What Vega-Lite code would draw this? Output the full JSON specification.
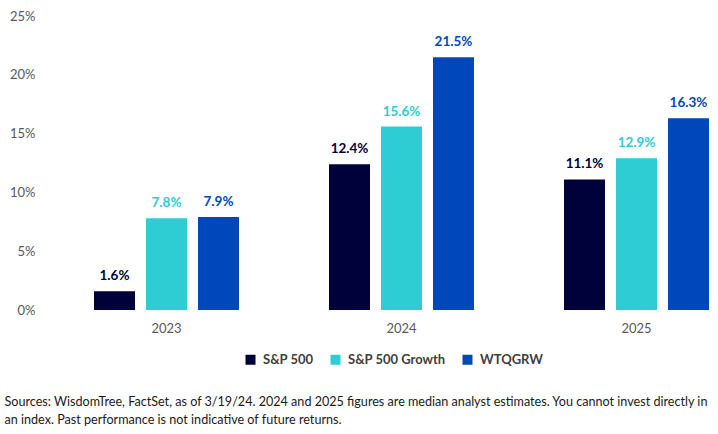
{
  "$schema": "https://vega.github.io/schema/vega-lite/v6.json",
  "autosize": "none",
  "width": 615,
  "height": 294,
  "padding": {"left": 94, "top": 16, "right": 9, "bottom": 124},
  "background": "white",
  "config": {"view": {"stroke": null}, "font": "Lato"},
  "data": {"values": [
    {"year": "2023", "series": "S&P 500", "value": 1.6},
    {"year": "2023", "series": "S&P 500 Growth", "value": 7.8},
    {"year": "2023", "series": "WTQGRW", "value": 7.9},
    {"year": "2024", "series": "S&P 500", "value": 12.4},
    {"year": "2024", "series": "S&P 500 Growth", "value": 15.6},
    {"year": "2024", "series": "WTQGRW", "value": 21.5},
    {"year": "2025", "series": "S&P 500", "value": 11.1},
    {"year": "2025", "series": "S&P 500 Growth", "value": 12.9},
    {"year": "2025", "series": "WTQGRW", "value": 16.3}
  ]},
  "encoding": {
    "x": {"field": "year", "type": "nominal",
      "scale": {"paddingInner": 0.383, "paddingOuter": 0},
      "axis": {"labelAngle": 0, "ticks": false, "domain": false, "grid": false,
        "labelFontSize": 13, "labelColor": "#595959", "labelPadding": 12, "labelFont": "Lato",
        "title": ["Sources: WisdomTree, FactSet, as of 3/19/24. 2024 and 2025 figures are median analyst estimates. You cannot invest directly in", "an index. Past performance is not indicative of future returns."],
        "titleX": -90, "titleY": 85, "titleAnchor": "start", "titleAlign": "left", "titleBaseline": "top",
        "titleFont": "Lato", "titleFontSize": 12.6, "titleFontWeight": "normal",
        "titleColor": "#1a1a1a", "titleLineHeight": 18.5}},
    "xOffset": {"field": "series", "type": "nominal", "scale": {"paddingInner": 0.2115, "paddingOuter": 0},
      "sort": ["S&P 500", "S&P 500 Growth", "WTQGRW"]},
    "y": {"field": "value", "type": "quantitative", "scale": {"domain": [0, 25], "nice": false},
      "axis": {"values": [0, 5, 10, 15, 20, 25], "labelExpr": "datum.value + '%'", "grid": false,
        "ticks": false, "domain": false, "offset": 59, "labelPadding": 0, "labelFontSize": 13,
        "labelColor": "#595959", "title": null, "labelFont": "Lato"}},
    "color": {"field": "series", "type": "nominal",
      "scale": {"domain": ["S&P 500", "S&P 500 Growth", "WTQGRW"], "range": ["#00003A", "#2ECCD3", "#0047BB"]},
      "legend": {"title": null, "orient": "none", "direction": "horizontal", "legendX": 150, "legendY": 337,
        "symbolType": "square", "symbolSize": 100, "symbolStrokeWidth": 0, "labelFontSize": 13, "labelFontWeight": "bold",
        "labelColor": "#404040", "labelOffset": 6, "columnPadding": 15, "labelFont": "Lato"}}
  },
  "layer": [
    {"mark": {"type": "bar"}},
    {"mark": {"type": "text", "baseline": "middle", "dy": -15, "fontSize": 13.5, "fontWeight": "bold", "font": "Lato",
        "text": {"expr": "format(datum.value, '.1f') + '%'"}},
      "encoding": {"color": {"field": "series", "type": "nominal", "legend": null}}}
  ]
}
